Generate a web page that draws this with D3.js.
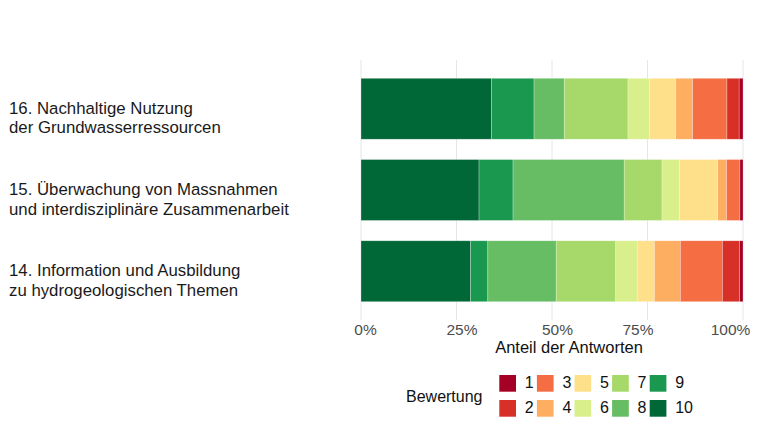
<!DOCTYPE html>
<html><head><meta charset="utf-8">
<script src="https://cdn.jsdelivr.net/npm/d3@7"></script>
<style>body{margin:0;background:#fff}svg{display:block}text{font-family:"Liberation Sans",Arial,sans-serif}</style>
</head><body>
<svg id="c" width="760" height="440"></svg>
<script>
const categories = [
  "16. Nachhaltige Nutzung|der Grundwasserressourcen",
  "15. Überwachung von Massnahmen|und interdisziplinäre Zusammenarbeit",
  "14. Information und Ausbildung|zu hydrogeologischen Themen"
];
const ratings = ["1","2","3","4","5","6","7","8","9","10"];
// share (%) of each rating, per item, ratings 1..10
const item16 = [1.0, 3.2, 9.0, 4.4, 6.9, 5.6, 16.7, 7.9, 11.1, 34.2];
const item15 = [0.8, 0.0, 3.5, 2.3, 10.0, 4.6, 9.9, 29.1, 8.9, 30.9];
const item14 = [0.9, 4.5, 11.0, 6.8, 4.5, 5.6, 15.6, 17.9, 4.5, 28.7];
const xTicks = [0, 25, 50, 75, 100];
const tickLabels = ["0%", "25%", "50%", "75%", "100%"];
const colors = ["#a50026","#d73027","#f46d43","#fdae61","#fee08b","#d9ef8b","#a6d96a","#66bd63","#1a9850","#006837"];

const seriesByCat = [item16, item15, item14];
const rows = categories.map((c, i) => {
  const o = {cat: c};
  ratings.forEach((r, j) => o[r] = seriesByCat[i][j]);
  return o;
});

const svg = d3.select("#c");
const x = d3.scaleLinear().domain([0, 100]).range([361, 743]);
const y = d3.scaleBand().domain(categories).range([60, 320]).paddingInner(0.25).paddingOuter(0.225);
const color = d3.scaleOrdinal().domain(ratings).range(colors);

// gridlines
svg.append("g").selectAll("line").data(xTicks).join("line")
  .attr("x1", d => x(d)).attr("x2", d => x(d))
  .attr("y1", 60).attr("y2", 320)
  .attr("stroke", "#e6e6e6").attr("stroke-width", 1);

// stacked bars: 10 at left, 1 at right
const keys = ratings.slice().reverse();
const stacked = d3.stack().keys(keys)(rows);
svg.append("g").selectAll("g").data(stacked).join("g")
  .attr("fill", d => color(d.key))
  .selectAll("rect").data(d => d).join("rect")
  .attr("x", d => x(d[0]))
  .attr("width", d => Math.max(0, x(d[1]) - x(d[0])))
  .attr("y", d => y(d.data.cat))
  .attr("height", y.bandwidth())
  .attr("stroke", "#ffffff").attr("stroke-width", 0.6).attr("stroke-opacity", 0.45);

// x axis
const labelNudge = [4, 5, 5, -10, -13];
const xa = svg.append("g").attr("transform", "translate(0,320)")
  .call(d3.axisBottom(x).tickValues(xTicks).tickFormat((d, i) => tickLabels[i]).tickSize(0));
xa.select(".domain").remove();
xa.selectAll("text").attr("y", 15).attr("dy", 0)
  .attr("dx", (d, i) => labelNudge[i])
  .attr("font-size", 15.5).attr("fill", "#4d4d4d");

svg.append("text").attr("x", 569).attr("y", 352.5).attr("text-anchor", "middle")
  .attr("font-size", 16.5).attr("fill", "#111").text("Anteil der Antworten");

// y axis labels
const ya = svg.append("g").call(d3.axisLeft(y).tickSize(0));
ya.select(".domain").remove();
ya.selectAll(".tick text").each(function(d) {
  const t = d3.select(this);
  t.text(null).attr("text-anchor", "start").attr("x", 9).attr("dy", 0)
    .attr("font-size", 16.8).attr("fill", "#1a1a1a");
  d.split("|").forEach((l, k) => {
    t.append("tspan").attr("x", 9).attr("y", 5 + k * 19.5).text(l);
  });
});

// legend
svg.append("text").attr("x", 406).attr("y", 401.7).attr("font-size", 16).attr("fill", "#111").text("Bewertung");
const lg = svg.append("g").selectAll("g").data(ratings).join("g")
  .attr("transform", (d, i) => `translate(${499.3 + Math.floor(i / 2) * 37.6},${375 + (i % 2) * 25})`);
lg.append("rect").attr("width", 16.7).attr("height", 16.7).attr("fill", d => color(d));
lg.append("text").attr("x", 25.5).attr("y", 13.3).attr("font-size", 16).attr("fill", "#111").text(d => d);
</script>
</body></html>
